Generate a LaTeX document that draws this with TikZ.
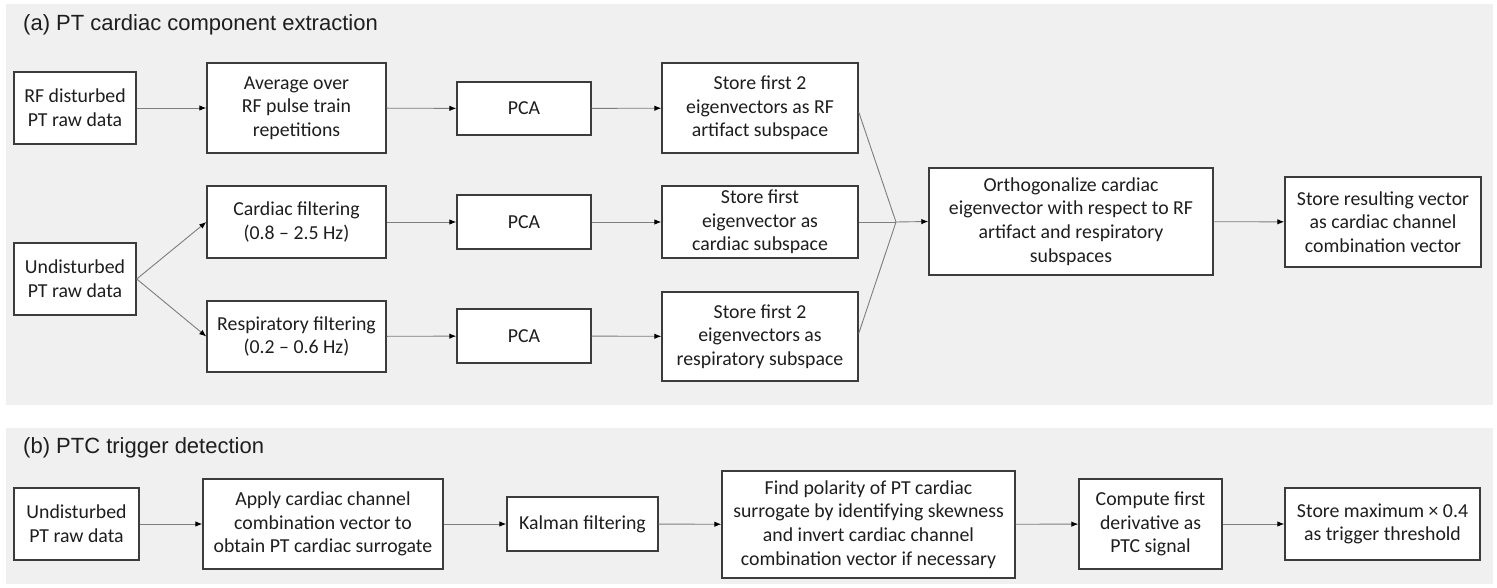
\documentclass[tikz,border=0pt]{standalone}
\usepackage{fontspec}
\setmainfont{Carlito}
\newfontfamily\titlefont{Liberation Sans}
\usetikzlibrary{arrows.meta}
\definecolor{panelgray}{RGB}{240,240,240}
\definecolor{boxline}{RGB}{60,60,60}
\definecolor{txt}{RGB}{30,30,30}
\definecolor{conn}{RGB}{125,125,125}
\tikzset{
  stepbox/.style={draw=boxline, line width=1.4pt, fill=white, inner sep=0pt,
    align=center, text=txt, font=\fontsize{19.8}{23.7}\selectfont},
  panel/.style={fill=panelgray, draw=none},
  ptitle/.style={anchor=west, inner sep=0pt, text=txt, font=\titlefont\fontsize{22}{26}\selectfont},
  conn/.style={draw=conn, line width=0.9pt, -{Latex[length=7pt,width=5.5pt,color=black]}},
  plain/.style={draw=conn, line width=0.9pt}
}
\begin{document}
\begin{tikzpicture}[x=1pt,y=-1pt]
\useasboundingbox (0,0) rectangle (1497,588);
\fill[white] (0,0) rectangle (1497,588);
% panels
\path[panel] (6,4) rectangle (1493,405);
\path[panel] (6,428) rectangle (1493,584);
\node[ptitle] (ta) at (23,25) {(a) PT cardiac component extraction};
\node[ptitle] (tb) at (23,448) {(b) PTC trigger detection};

% panel (a)
\node[stepbox, minimum width=122, minimum height=72] (rf) at (75,108) {RF disturbed\\PT raw data};
\node[stepbox, minimum width=179, minimum height=90] (avg) at (296.5,108) {Average over\\RF pulse train\\repetitions};
\node[stepbox, minimum width=134, minimum height=53] (pca1) at (524,108.5) {PCA};
\node[stepbox, minimum width=196, minimum height=90] (st1) at (760,108) {Store first 2\\eigenvectors as RF\\artifact subspace};

\node[stepbox, minimum width=122, minimum height=72] (und) at (75,279) {Undisturbed\\PT raw data};
\node[stepbox, minimum width=179, minimum height=72] (card) at (296.5,222) {Cardiac filtering\\(0.8 -- 2.5 Hz)};
\node[stepbox, minimum width=134, minimum height=54] (pca2) at (524,222) {PCA};
\node[stepbox, minimum width=196, minimum height=72] (st2) at (760,222) {Store first\\eigenvector as\\cardiac subspace};

\node[stepbox, minimum width=179, minimum height=71] (resp) at (296.5,336.5) {Respiratory filtering\\(0.2 -- 0.6 Hz)};
\node[stepbox, minimum width=134, minimum height=54] (pca3) at (524,336) {PCA};
\node[stepbox, minimum width=196, minimum height=89] (st3) at (760,336.5) {Store first 2\\eigenvectors as\\respiratory subspace};

\node[stepbox, minimum width=284, minimum height=107] (orth) at (1071,221.5) {Orthogonalize cardiac\\eigenvector with respect to RF\\artifact and respiratory\\subspaces};
\node[stepbox, minimum width=196, minimum height=90] (res) at (1383,222) {Store resulting vector\\as cardiac channel\\combination vector};
\coordinate (m) at (896,222);

\draw[conn] (rf) -- (avg);
\draw[conn] (avg) -- (pca1);
\draw[conn] (pca1) -- (st1);
\draw[conn] (und.east) -- (card.west);
\draw[conn] (und.east) -- (resp.west);
\draw[conn] (card) -- (pca2);
\draw[conn] (pca2) -- (st2);
\draw[conn] (resp) -- (pca3);
\draw[conn] (pca3) -- (st3);
\draw[plain] ([yshift=-4pt]st1.east) -- (m);
\draw[plain] ([yshift=3pt]st3.east) -- (m);
\draw[plain] (st2.east) -- (m);
\draw[conn] (m) -- (orth.west);
\draw[conn] (orth) -- (res);

% panel (b)
\node[stepbox, minimum width=125, minimum height=72] (und2) at (76.5,524) {Undisturbed\\PT raw data};
\node[stepbox, minimum width=240, minimum height=90] (apply) at (323,524) {Apply cardiac channel\\combination vector to\\obtain PT cardiac surrogate};
\node[stepbox, minimum width=151, minimum height=54] (kal) at (582.5,524) {Kalman filtering};
\node[stepbox, minimum width=293, minimum height=107] (find) at (868.5,524.5) {Find polarity of PT cardiac\\surrogate by identifying skewness\\and invert cardiac channel\\combination vector if necessary};
\node[stepbox, minimum width=143, minimum height=90] (comp) at (1150.5,524) {Compute first\\derivative as\\PTC signal};
\node[stepbox, minimum width=195, minimum height=72] (maxn) at (1382.5,524) {Store maximum × 0.4\\as trigger threshold};

\draw[conn] (und2) -- (apply);
\draw[conn] (apply) -- (kal);
\draw[conn] (kal) -- (find);
\draw[conn] (find) -- (comp);
\draw[conn] (comp) -- (maxn);
\end{tikzpicture}
\end{document}
